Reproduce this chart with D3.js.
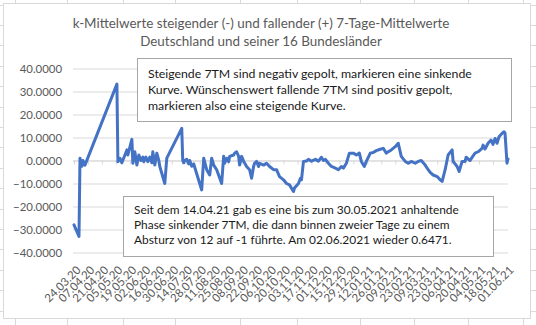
<!DOCTYPE html>
<html><head><meta charset="utf-8">
<script src="https://cdn.jsdelivr.net/npm/d3@7"></script>
<style>
html,body{margin:0;padding:0;background:#fff;}
svg{display:block;font-family:Lato, "Open Sans", sans-serif;}
</style></head>
<body>
<svg id="c" width="536" height="325"></svg>
<script>
const titleLines = ["k-Mittelwerte steigender (-) und fallender (+) 7-Tage-Mittelwerte", "Deutschland und seiner 16 Bundesländer"];
const box1Lines = ["Steigende 7TM sind negativ gepolt, markieren eine sinkende", "Kurve. Wünschenswert fallende 7TM sind positiv gepolt,", "markieren also eine steigende Kurve."];
const box2Lines = ["Seit dem 14.04.21 gab es eine bis zum 30.05.2021 anhaltende", "Phase sinkender 7TM, die dann binnen zweier Tage zu einem", "Absturz von 12 auf -1 führte. Am 02.06.2021 wieder 0.6471."];
const yTicks = [-40, -30, -20, -10, 0, 10, 20, 30, 40];
const xTickLabels = ["24.03.20","07.04.20","21.04.20","05.05.20","19.05.20","02.06.20","16.06.20","30.06.20","14.07.20","28.07.20","11.08.20","25.08.20","08.09.20","22.09.20","06.10.20","20.10.20","03.11.20","17.11.20","01.12.20","15.12.20","29.12.20","12.01.21","26.01.21","09.02.21","23.02.21","09.03.21","23.03.21","06.04.21","20.04.21","04.05.21","18.05.21","01.06.21"];
const dates = ["2020-03-24","2020-03-29","2020-03-30","2020-04-01","2020-04-02","2020-04-04","2020-05-06","2020-05-07","2020-05-09","2020-05-11","2020-05-16","2020-05-17","2020-05-21","2020-05-22","2020-05-24","2020-05-26","2020-05-27","2020-05-28","2020-05-30","2020-06-01","2020-06-02","2020-06-04","2020-06-06","2020-06-08","2020-06-10","2020-06-11","2020-06-13","2020-06-15","2020-06-17","2020-06-18","2020-06-23","2020-06-25","2020-07-10","2020-07-11","2020-07-12","2020-07-13","2020-07-15","2020-07-17","2020-07-18","2020-07-20","2020-07-22","2020-07-30","2020-08-01","2020-08-04","2020-08-07","2020-08-09","2020-08-11","2020-08-14","2020-08-19","2020-08-21","2020-08-22","2020-08-24","2020-08-26","2020-08-27","2020-08-31","2020-09-01","2020-09-03","2020-09-05","2020-09-06","2020-09-08","2020-09-10","2020-09-13","2020-09-16","2020-09-18","2020-09-20","2020-09-21","2020-09-23","2020-09-25","2020-09-26","2020-09-30","2020-10-03","2020-10-06","2020-10-10","2020-10-13","2020-10-16","2020-10-20","2020-10-23","2020-10-26","2020-10-30","2020-10-31","2020-11-04","2020-11-06","2020-11-07","2020-11-09","2020-11-12","2020-11-14","2020-11-17","2020-11-21","2020-11-24","2020-11-27","2020-11-29","2020-12-01","2020-12-04","2020-12-07","2020-12-11","2020-12-14","2020-12-17","2020-12-19","2020-12-22","2020-12-25","2020-12-29","2021-01-01","2021-01-04","2021-01-06","2021-01-09","2021-01-11","2021-01-15","2021-01-18","2021-01-21","2021-01-25","2021-01-28","2021-01-31","2021-02-02","2021-02-05","2021-02-09","2021-02-12","2021-02-15","2021-02-19","2021-02-22","2021-02-25","2021-03-01","2021-03-04","2021-03-07","2021-03-11","2021-03-14","2021-03-16","2021-03-19","2021-03-23","2021-03-26","2021-03-28","2021-03-31","2021-04-03","2021-04-07","2021-04-08","2021-04-12","2021-04-14","2021-04-17","2021-04-20","2021-04-21","2021-04-25","2021-04-28","2021-04-30","2021-05-03","2021-05-07","2021-05-08","2021-05-10","2021-05-13","2021-05-16","2021-05-18","2021-05-20","2021-05-22","2021-05-24","2021-05-27","2021-05-29","2021-05-30","2021-06-01","2021-06-02"];
const values = [-28,-33,1,-2.5,0,-2,33.2,-0.5,1,-1,4.6,2.4,9.2,-1.2,3.8,-2,0.2,2.4,0,1.5,-0.5,1.5,-0.5,1.5,-1,3.8,-2,3.2,0,-2.6,-10,1,14,0,-1,0,0.5,-1.5,0,-2.5,-1.5,-12.8,1,-4,-6.3,1,-2,-4,-10,1.8,-1.2,1,-0.5,1.8,2.4,3.2,3.8,1.8,-2,1.8,-0.3,-2.6,-4,-7.7,-2.6,-1.2,-0.4,-2.6,-1.2,-2,-1.2,-2.6,-4,-4,-7,-8.4,-10,-10.6,-13.5,-12,-10,-7.7,-8.4,-0.4,-0.2,0.5,-0.3,0.5,-0.3,1.4,0,0.5,-1.2,-2.6,-3.3,-4,-2.6,-3.3,-1.2,3.2,3.2,2.4,3.2,-0.4,-2.6,-0.4,3.2,3.5,4.3,4.9,5.3,3.2,3.8,4.6,6,7.5,1.8,-0.4,-1.2,-0.4,-1.2,-0.4,0,-2,-4,-5.2,-6.3,-7,-8.4,-9.1,-4,2.4,4.6,-0.4,-2.6,-4.8,-0.4,-0.4,1.4,0,2,3.2,3.8,5.3,6.7,5,7.5,8.9,7,9.6,7.5,10.3,11.8,12.5,12,-1.2,0.6471];

const parse = d3.timeParse("%Y-%m-%d");
const parseLbl = d3.timeParse("%d.%m.%y");
const data = dates.map((d, i) => ({date: parse(d), v: values[i]}));
const tickDates = xTickLabels.map(parseLbl);

const svg = d3.select("#c");
const W = 536, H = 325;

// spreadsheet background grid
const sheet = svg.append("g");
const colX = [15, 67, 123, 175, 240, 297, 360, 414, 468, 523];
const rowY = d3.range(-1, 16).map(k => 25 + 20.4 * k);
sheet.selectAll("line.c").data(colX).join("line").attr("x1", d => d + .5).attr("x2", d => d + .5).attr("y1", 0).attr("y2", H).attr("stroke", "#dadada");
sheet.selectAll("line.r").data(rowY).join("line").attr("y1", d => Math.round(d) + .5).attr("y2", d => Math.round(d) + .5).attr("x1", 0).attr("x2", W).attr("stroke", "#dadada");

// chart area
svg.append("rect").attr("x", 3.5).attr("y", 3.5).attr("width", 527).attr("height", 315).attr("fill", "#fff").attr("stroke", "#d9d9d9");

const x = d3.scaleTime().domain([parse("2020-03-24"), parse("2021-06-02")]).range([74, 508]);
const y = d3.scaleLinear().domain([-40, 40]).range([252.5, 68.5]);

function fit(sel, w) {
  const n = sel.node(); const fs = parseFloat(sel.attr("font-size"));
  const len = n.getComputedTextLength();
  return fs * w / len;
}

// y axis with gridlines
const gy = svg.append("g").attr("transform", "translate(73,0)")
  .call(d3.axisLeft(y).tickValues(yTicks).tickSize(-(508 - 73)).tickPadding(11).tickFormat(d3.format(".4f")));
gy.select(".domain").remove();
gy.selectAll(".tick line").attr("stroke", "#d9d9d9");
gy.selectAll(".tick text").attr("fill", "#595959").attr("font-size", 12).attr("font-family", "Lato");
{
  const t = gy.selectAll(".tick text").filter(d => d === -40);
  const fs = fit(t, 49);
  gy.selectAll(".tick text").attr("font-size", fs);
}

// zero axis with tick marks
const gx = svg.append("g").attr("transform", `translate(0,${y(0)})`)
  .call(d3.axisBottom(x).tickValues(tickDates).tickSize(4).tickFormat(""));
gx.select(".domain").attr("stroke", "#d9d9d9").attr("d", `M73,0.5H508`);
gx.selectAll(".tick line").attr("stroke", "#d9d9d9");

// x labels (group opacity forces grayscale antialiasing)
const gl = svg.append("g").attr("transform", "translate(0,268)").style("opacity", 0.999)
  .call(d3.axisBottom(x).tickValues(tickDates).tickSize(0).tickFormat((d, i) => xTickLabels[i]));
gl.select(".domain").remove();
gl.selectAll(".tick text").attr("fill", "#595959").style("fill", "#595959").attr("font-size", 11.5).attr("font-family", "Lato")
  .attr("x", 0).attr("y", 0).attr("dy", "0.35em").attr("text-anchor", "end")
  .attr("transform", "translate(4,0) rotate(-45)");

// line
svg.append("path").datum(data)
  .attr("fill", "none").attr("stroke", "#4472c4").attr("stroke-width", 3)
  .attr("stroke-linejoin", "round").attr("stroke-linecap", "round")
  .attr("d", d3.line().x(d => x(d.date)).y(d => y(d.v)));

// title
const tg = svg.append("g");
const t1 = tg.append("text").attr("x", 261).attr("y", 28).attr("text-anchor", "middle").attr("font-size", 15).attr("fill", "#595959").text(titleLines[0]);
const tfs = fit(t1, 377);
t1.attr("font-size", tfs);
tg.append("text").attr("x", 261).attr("y", 46).attr("text-anchor", "middle").attr("font-size", tfs).attr("fill", "#595959").text(titleLines[1]);

// annotation boxes
function box(bx, by, bw, bh, tx, ty, lh, lines, refW) {
  const g = svg.append("g");
  g.append("rect").attr("x", bx + .5).attr("y", by + .5).attr("width", bw).attr("height", bh).attr("fill", "#fff").attr("stroke", "#a6a6a6");
  const texts = g.selectAll("text").data(lines).join("text")
    .attr("x", tx).attr("y", (d, i) => ty + i * lh).attr("font-size", 12).attr("fill", "#1a1a1a").text(d => d);
  const fs = fit(d3.select(texts.nodes()[0]), refW);
  texts.attr("font-size", fs);
}
box(137, 58, 374, 63, 148, 78, 16, box1Lines, 324);
box(123, 196, 370, 60, 134, 214, 15, box2Lines, 325);
</script>
</body></html>
